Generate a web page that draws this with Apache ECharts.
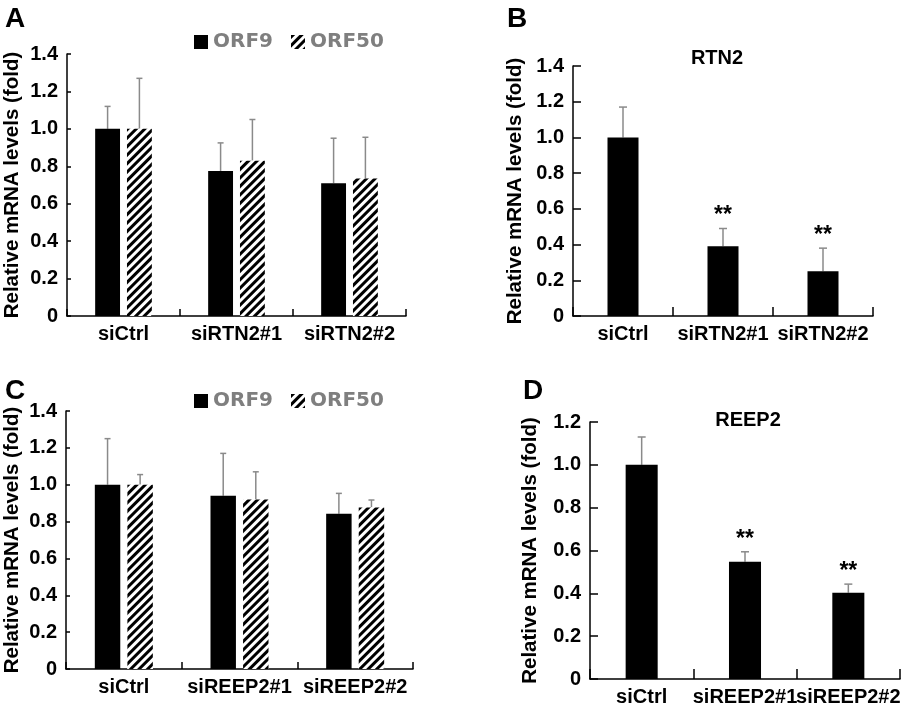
<!DOCTYPE html>
<html>
<head>
<meta charset="utf-8">
<script src="https://cdn.jsdelivr.net/npm/echarts@6/dist/echarts.min.js"></script>
<style>
  html, body { margin: 0; padding: 0; background: #fff; }
  #main { width: 905px; height: 707px; }
</style>
</head>
<body>
<div id="main"></div>
<script>
// panel A / C : ORF9 + ORF50 after RTN2 / REEP2 knockdown
var catsA = ['siCtrl', 'siRTN2#1', 'siRTN2#2'];
var orf9A = [1.0, 0.775, 0.71];
var orf9AErr = [0.12, 0.15, 0.24];
var orf50A = [1.0, 0.83, 0.735];
var orf50AErr = [0.27, 0.22, 0.22];

// panel B : RTN2
var rtn2 = [1.0, 0.39, 0.25];
var rtn2Err = [0.17, 0.10, 0.13];
var sigB = ['', '**', '**'];

var catsC = ['siCtrl', 'siREEP2#1', 'siREEP2#2'];
var orf9C = [1.0, 0.94, 0.843];
var orf9CErr = [0.25, 0.23, 0.11];
var orf50C = [1.0, 0.92, 0.877];
var orf50CErr = [0.055, 0.15, 0.04];

// panel D : REEP2
var reep2 = [1.0, 0.548, 0.403];
var reep2Err = [0.13, 0.046, 0.04];
var sigD = ['', '**', '**'];

var FONT = 'Liberation Sans';
var hatch = {
  symbol: 'rect',
  symbolSize: 1,
  dashArrayX: [1, 0],
  dashArrayY: [2.2, 2.8],
  rotation: -Math.PI / 4,
  color: '#000',
  backgroundColor: '#fff'
};

function errData(vals, errs, sig) {
  return vals.map(function (v, i) {
    return [i, v, errs[i], sig ? sig[i] : ''];
  });
}

/**
 * 误差线（只画向上一半）+ 显著性星号
 */
function errRender(offsetRatio, capHalf) {
  return function (params, api) {
    var band = api.size([1, 0])[0];
    var base = api.coord([api.value(0), api.value(1)]);
    var top = api.coord([api.value(0), api.value(1) + api.value(2)]);
    var x = base[0] + offsetRatio * band;
    var children = [
      { type: 'line', shape: { x1: x, y1: base[1], x2: x, y2: top[1] },
        style: { stroke: '#8a8a8a', lineWidth: 1.5 } },
      { type: 'line', shape: { x1: x - capHalf, y1: top[1], x2: x + capHalf, y2: top[1] },
        style: { stroke: '#8a8a8a', lineWidth: 1.5 } }
    ];
    var s = api.value(3);
    if (s && s !== '-') {
      children.push({ type: 'text', x: x, y: top[1] - 1,
        style: { text: s, fill: '#000', font: 'bold 23px ' + FONT, align: 'center', verticalAlign: 'bottom' } });
    }
    return { type: 'group', children: children };
  };
}

function yAxis(gridIndex, max, tickLen, gap) {
  return {
    type: 'value', gridIndex: gridIndex, min: 0, max: max, interval: 0.2,
    name: 'Relative mRNA levels (fold)', nameLocation: 'middle', nameGap: gap,
    nameTextStyle: { fontFamily: FONT, fontWeight: 'bold', fontSize: 20.5, color: '#000' },
    axisLine: { show: true, lineStyle: { color: '#000', width: 1.5 } },
    axisTick: { show: true, inside: true, length: tickLen, lineStyle: { color: '#000', width: 1.5 } },
    axisLabel: { fontFamily: FONT, fontWeight: 'bold', fontSize: 20, color: '#000', margin: 9,
      formatter: function (v) { return v === 0 ? '0' : v.toFixed(1); } },
    splitLine: { show: false }
  };
}

function xAxis(gridIndex, cats, tickLen) {
  return {
    type: 'category', gridIndex: gridIndex, data: cats,
    axisLine: { lineStyle: { color: '#000', width: 1.5 } },
    axisTick: { show: true, inside: true, length: tickLen, lineStyle: { color: '#000', width: 1.5 } },
    axisLabel: { fontFamily: FONT, fontWeight: 'bold', fontSize: 20, color: '#000', margin: 8, interval: 0 }
  };
}

var chart = echarts.init(document.getElementById('main'));

var GBW = '22%', GGAP = '28%', GOFF = 0.1408;
var legendText = { fontFamily: 'DejaVu Sans', fontWeight: 'bold', fontSize: 20, color: '#7f7f7f' };

var option = {
  animation: false,
  backgroundColor: '#fff',
  title: [
    { text: 'A', left: 0, top: 0, textStyle: { fontFamily: FONT, fontWeight: 'bold', fontSize: 28, color: '#000' } },
    { text: 'B', left: 502, top: 0, textStyle: { fontFamily: FONT, fontWeight: 'bold', fontSize: 28, color: '#000' } },
    { text: 'C', left: 0, top: 372, textStyle: { fontFamily: FONT, fontWeight: 'bold', fontSize: 28, color: '#000' } },
    { text: 'D', left: 518, top: 372, textStyle: { fontFamily: FONT, fontWeight: 'bold', fontSize: 28, color: '#000' } },
    { text: 'RTN2', left: 712, top: 43, textAlign: 'center', textStyle: { fontFamily: FONT, fontWeight: 'bold', fontSize: 20, color: '#000' } },
    { text: 'REEP2', left: 743, top: 405, textAlign: 'center', textStyle: { fontFamily: FONT, fontWeight: 'bold', fontSize: 20, color: '#000' } }
  ],
  legend: [
    { left: 194, top: 32, itemWidth: 14, itemHeight: 14, itemGap: 18, padding: 0, icon: 'rect',
      data: ['ORF9', 'ORF50'], textStyle: legendText },
    { left: 194, top: 391, itemWidth: 14, itemHeight: 14, itemGap: 18, padding: 0, icon: 'rect',
      data: ['ORF9', 'ORF50'], textStyle: legendText }
  ],
  grid: [
    { left: 67, top: 54, width: 339, height: 262 },
    { left: 573, top: 66, width: 300, height: 250 },
    { left: 66, top: 411, width: 347, height: 258 },
    { left: 590, top: 422, width: 310, height: 260 }
  ],
  xAxis: [
    xAxis(0, catsA, 7),
    xAxis(1, catsA, 9),
    xAxis(2, catsC, 7),
    xAxis(3, catsC, 10)
  ],
  yAxis: [
    yAxis(0, 1.4, 4, 44),
    yAxis(1, 1.4, 8, 47),
    yAxis(2, 1.4, 4, 43),
    yAxis(3, 1.2, 8, 49)
  ],
  series: [
    { name: 'ORF9', type: 'bar', xAxisIndex: 0, yAxisIndex: 0, data: orf9A, barWidth: GBW, barGap: GGAP,
      itemStyle: { color: '#000' } },
    { name: 'ORF50', type: 'bar', xAxisIndex: 0, yAxisIndex: 0, data: orf50A, barWidth: GBW, barGap: GGAP,
      itemStyle: { color: '#fff', decal: hatch } },
    { type: 'custom', xAxisIndex: 0, yAxisIndex: 0, data: errData(orf9A, orf9AErr), renderItem: errRender(-GOFF, 3), z: 1 },
    { type: 'custom', xAxisIndex: 0, yAxisIndex: 0, data: errData(orf50A, orf50AErr), renderItem: errRender(GOFF, 3), z: 1 },

    { name: 'RTN2', type: 'bar', xAxisIndex: 1, yAxisIndex: 1, data: rtn2, barWidth: '31%',
      itemStyle: { color: '#000' } },
    { type: 'custom', xAxisIndex: 1, yAxisIndex: 1, data: errData(rtn2, rtn2Err, sigB), renderItem: errRender(0, 4), z: 1 },

    { name: 'ORF9', type: 'bar', xAxisIndex: 2, yAxisIndex: 2, data: orf9C, barWidth: GBW, barGap: GGAP,
      itemStyle: { color: '#000' } },
    { name: 'ORF50', type: 'bar', xAxisIndex: 2, yAxisIndex: 2, data: orf50C, barWidth: GBW, barGap: GGAP,
      itemStyle: { color: '#fff', decal: hatch } },
    { type: 'custom', xAxisIndex: 2, yAxisIndex: 2, data: errData(orf9C, orf9CErr), renderItem: errRender(-GOFF, 3), z: 1 },
    { type: 'custom', xAxisIndex: 2, yAxisIndex: 2, data: errData(orf50C, orf50CErr), renderItem: errRender(GOFF, 3), z: 1 },

    { name: 'REEP2', type: 'bar', xAxisIndex: 3, yAxisIndex: 3, data: reep2, barWidth: '31%',
      itemStyle: { color: '#000' } },
    { type: 'custom', xAxisIndex: 3, yAxisIndex: 3, data: errData(reep2, reep2Err, sigD), renderItem: errRender(0, 4), z: 1 }
  ]
};

chart.setOption(option);
</script>
</body>
</html>
